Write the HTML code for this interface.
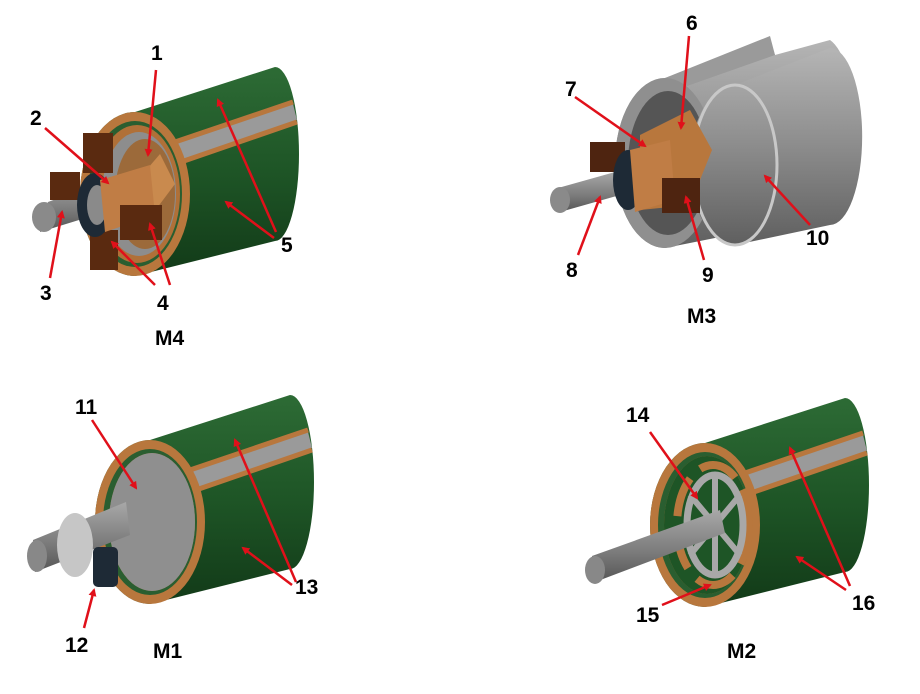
<!DOCTYPE html>
<html><head><meta charset="utf-8"><style>
html,body{margin:0;padding:0;background:#fff;}
svg{display:block;}
text{font-family:"Liberation Sans",Arial,sans-serif;font-weight:bold;font-size:21px;fill:#000;}
</style></head><body>
<svg width="920" height="694" viewBox="0 0 920 694" xmlns="http://www.w3.org/2000/svg">
<defs>
<linearGradient id="gr" x1="0" y1="0" x2="0" y2="1">
<stop offset="0" stop-color="#2d6b35"/><stop offset="0.5" stop-color="#1e5526"/><stop offset="1" stop-color="#123a18"/>
</linearGradient>
<linearGradient id="gy" x1="0" y1="0" x2="0" y2="1">
<stop offset="0" stop-color="#b5b5b5"/><stop offset="0.5" stop-color="#8c8c8c"/><stop offset="1" stop-color="#5f5f5f"/>
</linearGradient>
<linearGradient id="sh" x1="0" y1="0" x2="0" y2="1">
<stop offset="0" stop-color="#a8a8a8"/><stop offset="0.6" stop-color="#7a7a7a"/><stop offset="1" stop-color="#555"/>
</linearGradient>
<marker id="ah" markerWidth="8" markerHeight="8" refX="6" refY="4" orient="auto" markerUnits="userSpaceOnUse" viewBox="0 0 8 8">
<path d="M0,0 L8,4 L0,8 Z" fill="#e0101a"/>
</marker>
<g id="body">
<path d="M0,-82 L140,-127 A24,87 0 0 1 140,47 L0,82 A55,82 0 0 1 0,-82 Z" fill="url(#gr)"/>
<polygon points="40,-50 158,-90 162,-74 46,-34" fill="#9a9a9a"/>
<line x1="40" y1="-52" x2="158" y2="-92" stroke="#b8773d" stroke-width="5"/>
<line x1="46" y1="-32" x2="162" y2="-72" stroke="#b8773d" stroke-width="5"/>
<ellipse cx="0" cy="0" rx="55" ry="82" fill="#b8773d"/>
<ellipse cx="0" cy="0" rx="47" ry="73" fill="#2a5e30"/>
<ellipse cx="2" cy="0" rx="43" ry="69" fill="#b07038"/>
</g>
</defs>

<!-- M4 -->
<g transform="translate(135,194)">
<use href="#body"/>
<ellipse cx="4" cy="0" rx="37" ry="62" fill="#8d8d8d"/>
<ellipse cx="10" cy="0" rx="30" ry="55" fill="#9c6a3a"/>
<polygon points="-5,-5 25,-40 40,-10 10,30" fill="#c98a4e"/>
</g>
<rect x="83" y="133" width="30" height="40" fill="#5a2a10"/>
<rect x="90" y="230" width="28" height="40" fill="#5a2a10"/>
<path d="M40,232 L105,212 L112,178 L48,202 Z" fill="url(#sh)"/>
<ellipse cx="44" cy="217" rx="12" ry="15" fill="#8a8a8a"/>
<rect x="50" y="172" width="30" height="28" fill="#5a2a10"/>
<ellipse cx="95" cy="205" rx="18" ry="32" fill="#1e2a36"/>
<ellipse cx="97" cy="205" rx="10" ry="20" fill="#8a8a8a"/>
<path d="M100,180 L150,165 L155,215 L105,232 Z" fill="#c07d45"/>
<rect x="120" y="205" width="42" height="35" fill="#5a2a10"/>

<!-- M3 -->
<path d="M665,78 L770,40 L775,55 L830,40 A32,90 0 0 1 830,215 L665,248 A50,85 0 0 1 665,78 Z" fill="url(#gy)"/>
<polygon points="660,80 770,36 775,55 670,92" fill="#9a9a9a"/>
<ellipse cx="665" cy="163" rx="50" ry="85" fill="#8f8f8f"/>
<ellipse cx="668" cy="163" rx="40" ry="72" fill="#555"/>
<path d="M735,85 L830,48 A32,88 0 0 1 830,225 L735,245 A45,80 0 0 1 735,85 Z" fill="url(#gy)"/>
<ellipse cx="735" cy="165" rx="42" ry="80" fill="none" stroke="#c8c8c8" stroke-width="3"/>
<path d="M640,135 L690,110 L712,150 L690,205 L640,210 Z" fill="#b8773d"/>
<rect x="590" y="142" width="35" height="30" fill="#4e2410"/>
<path d="M560,212 L620,195 L615,172 L558,188 Z" fill="url(#sh)"/>
<ellipse cx="560" cy="200" rx="10" ry="13" fill="#8a8a8a"/>
<ellipse cx="628" cy="180" rx="15" ry="30" fill="#1e2a36"/>
<path d="M630,150 L670,140 L675,200 L635,212 Z" fill="#c07d45"/>
<rect x="662" y="178" width="38" height="35" fill="#4e2410"/>

<!-- M1 -->
<g transform="translate(150,522)">
<use href="#body"/>
<ellipse cx="2" cy="0" rx="43" ry="69" fill="#8f8f8f"/>
</g>
<path d="M35,572 L130,535 L126,502 L33,540 Z" fill="url(#sh)"/>
<ellipse cx="37" cy="556" rx="10" ry="16" fill="#888"/>
<ellipse cx="75" cy="545" rx="18" ry="32" fill="#c6c6c6"/>
<rect x="93" y="547" width="25" height="40" rx="5" fill="#1e2a36"/>

<!-- M2 -->
<g transform="translate(705,525)">
<use href="#body"/>
<ellipse cx="2" cy="0" rx="43" ry="69" fill="#1e5526"/>
<ellipse cx="8" cy="0" rx="36" ry="60" fill="none" stroke="#b8773d" stroke-width="8" stroke-dasharray="40 14"/>
<ellipse cx="10" cy="0" rx="28" ry="50" fill="none" stroke="#a8a8a8" stroke-width="7"/>
<line x1="10" y1="-50" x2="10" y2="50" stroke="#a8a8a8" stroke-width="6"/>
<line x1="-15" y1="-30" x2="35" y2="30" stroke="#a8a8a8" stroke-width="6"/>
<line x1="-15" y1="30" x2="35" y2="-30" stroke="#a8a8a8" stroke-width="6"/>
</g>
<path d="M595,582 L725,533 L720,510 L592,556 Z" fill="url(#sh)"/>
<ellipse cx="595" cy="570" rx="10" ry="14" fill="#888"/>

<!-- arrows -->
<g stroke="#e0101a" stroke-width="2.5" fill="none" marker-end="url(#ah)">
<line x1="156" y1="70" x2="148" y2="155"/>
<line x1="45" y1="128" x2="108" y2="183"/>
<line x1="50" y1="278" x2="62" y2="212"/>
<line x1="170" y1="285" x2="150" y2="224"/>
<line x1="155" y1="285" x2="112" y2="242"/>
<line x1="276" y1="232" x2="218" y2="100"/>
<line x1="274" y1="238" x2="226" y2="202"/>
<line x1="689" y1="36" x2="681" y2="128"/>
<line x1="575" y1="97" x2="645" y2="146"/>
<line x1="578" y1="255" x2="600" y2="197"/>
<line x1="704" y1="260" x2="686" y2="197"/>
<line x1="810" y1="225" x2="765" y2="176"/>
<line x1="92" y1="420" x2="136" y2="488"/>
<line x1="84" y1="628" x2="94" y2="590"/>
<line x1="296" y1="582" x2="235" y2="440"/>
<line x1="292" y1="585" x2="243" y2="548"/>
<line x1="650" y1="432" x2="697" y2="498"/>
<line x1="662" y1="605" x2="710" y2="585"/>
<line x1="850" y1="586" x2="790" y2="448"/>
<line x1="846" y1="590" x2="797" y2="557"/>
</g>

<!-- labels -->
<text x="151" y="60">1</text>
<text x="30" y="125">2</text>
<text x="40" y="300">3</text>
<text x="157" y="310">4</text>
<text x="281" y="252">5</text>
<text x="155" y="345">M4</text>
<text x="686" y="30">6</text>
<text x="565" y="96">7</text>
<text x="566" y="277">8</text>
<text x="702" y="282">9</text>
<text x="806" y="245">10</text>
<text x="687" y="323">M3</text>
<text x="75" y="414">11</text>
<text x="65" y="652">12</text>
<text x="295" y="594">13</text>
<text x="153" y="658">M1</text>
<text x="626" y="422">14</text>
<text x="636" y="622">15</text>
<text x="852" y="610">16</text>
<text x="727" y="658">M2</text>
</svg>
</body></html>
